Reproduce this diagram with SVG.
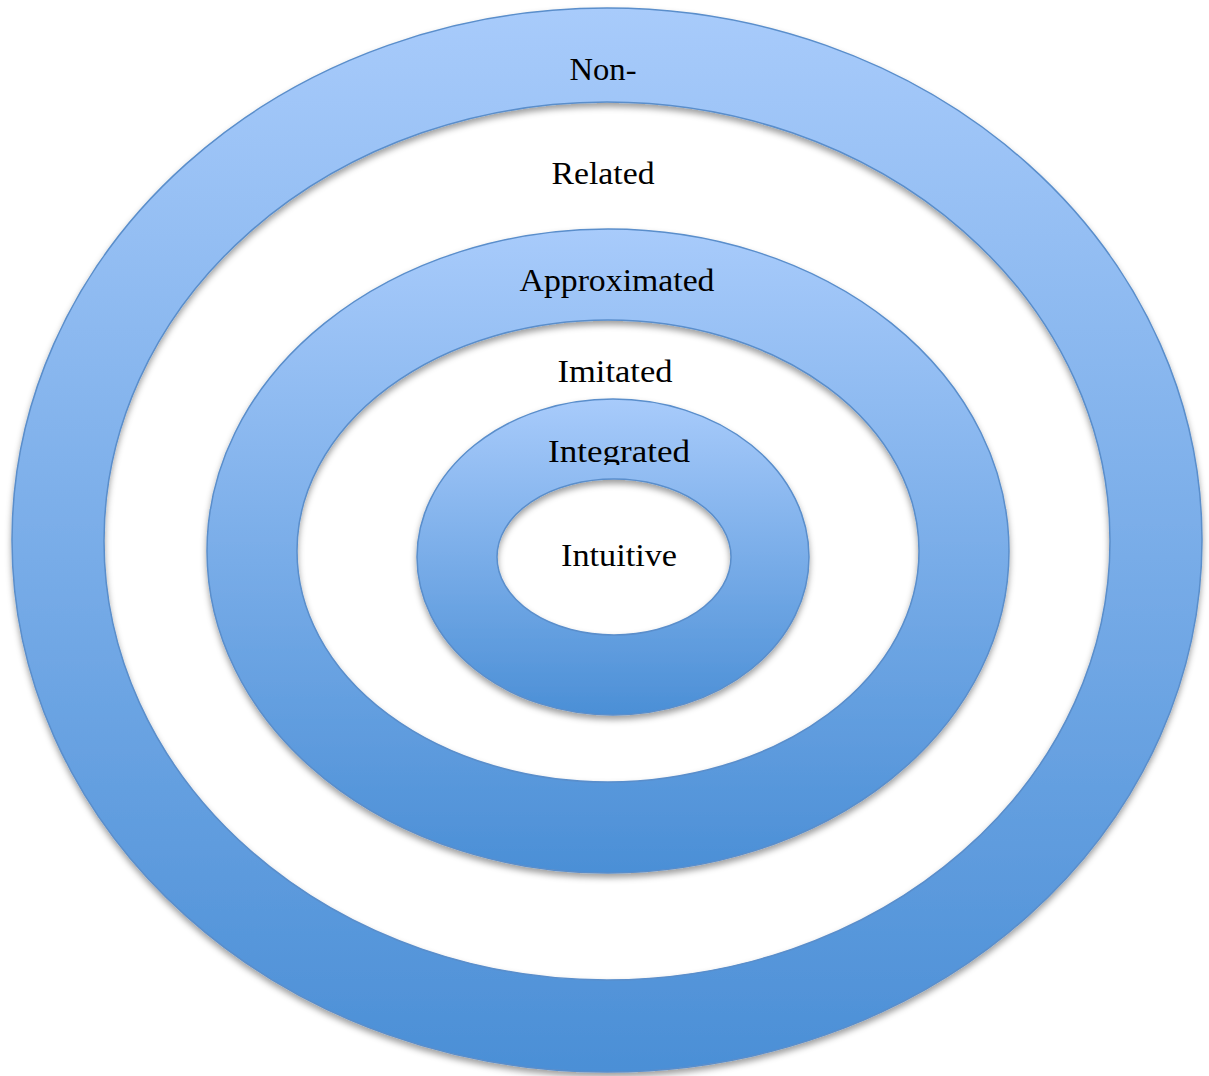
<svg xmlns="http://www.w3.org/2000/svg" width="1209" height="1076" viewBox="0 0 1209 1076">
  <defs>
    <linearGradient id="ringFill" x1="0" y1="0" x2="0" y2="1">
      <stop offset="0" stop-color="#a8cbfb"/>
      <stop offset="1" stop-color="#4b8fd6"/>
    </linearGradient>
    <filter id="shadow" x="-5%" y="-5%" width="110%" height="112%">
      <feGaussianBlur in="SourceAlpha" stdDeviation="3"/>
      <feOffset dx="0" dy="4" result="blur"/>
      <feFlood flood-color="#000" flood-opacity="0.38"/>
      <feComposite in2="blur" operator="in" result="shade"/>
      <feMerge>
        <feMergeNode in="shade"/>
        <feMergeNode in="SourceGraphic"/>
      </feMerge>
    </filter>
    <clipPath id="integratedClip">
      <rect x="530" y="420" width="180" height="45"/>
    </clipPath>
    <style>
      .ring { fill: url(#ringFill); fill-rule: evenodd; stroke: #5a8ecb; stroke-width: 1.5; filter: url(#shadow); }
      .label { font-family: "Liberation Serif", "DejaVu Serif", serif; font-size: 31px; fill: #000; text-anchor: middle; }
    </style>
  </defs>

  <rect width="1209" height="1076" fill="#ffffff"/>

  <!-- outer ring -->
  <g id="ring-outer">
    <path class="ring" d="M12,540 a595,532 0 1,0 1190,0 a595,532 0 1,0 -1190,0 Z M104,541 a503,439 0 1,0 1006,0 a503,439 0 1,0 -1006,0 Z"/>
    <text class="label" x="603" y="80" textLength="67" lengthAdjust="spacingAndGlyphs">Non-</text>
    <text class="label" x="603" y="184" textLength="103" lengthAdjust="spacingAndGlyphs">Related</text>
  </g>

  <!-- middle ring -->
  <g id="ring-middle">
    <path class="ring" d="M207,551 a401,322 0 1,0 802,0 a401,322 0 1,0 -802,0 Z M297,551 a311,231 0 1,0 622,0 a311,231 0 1,0 -622,0 Z"/>
    <text class="label" x="617" y="291" textLength="195" lengthAdjust="spacingAndGlyphs">Approximated</text>
    <text class="label" x="615" y="382" textLength="115" lengthAdjust="spacingAndGlyphs">Imitated</text>
  </g>

  <!-- inner ring -->
  <g id="ring-inner">
    <path class="ring" d="M417,557 a196,158 0 1,0 392,0 a196,158 0 1,0 -392,0 Z M497,557 a117,78 0 1,0 234,0 a117,78 0 1,0 -234,0 Z"/>
    <text class="label" x="619" y="462" textLength="142" lengthAdjust="spacingAndGlyphs" clip-path="url(#integratedClip)">Integrated</text>
    <text class="label" x="619" y="566" textLength="116" lengthAdjust="spacingAndGlyphs">Intuitive</text>
  </g>

  <g id="connectors"/>
</svg>
